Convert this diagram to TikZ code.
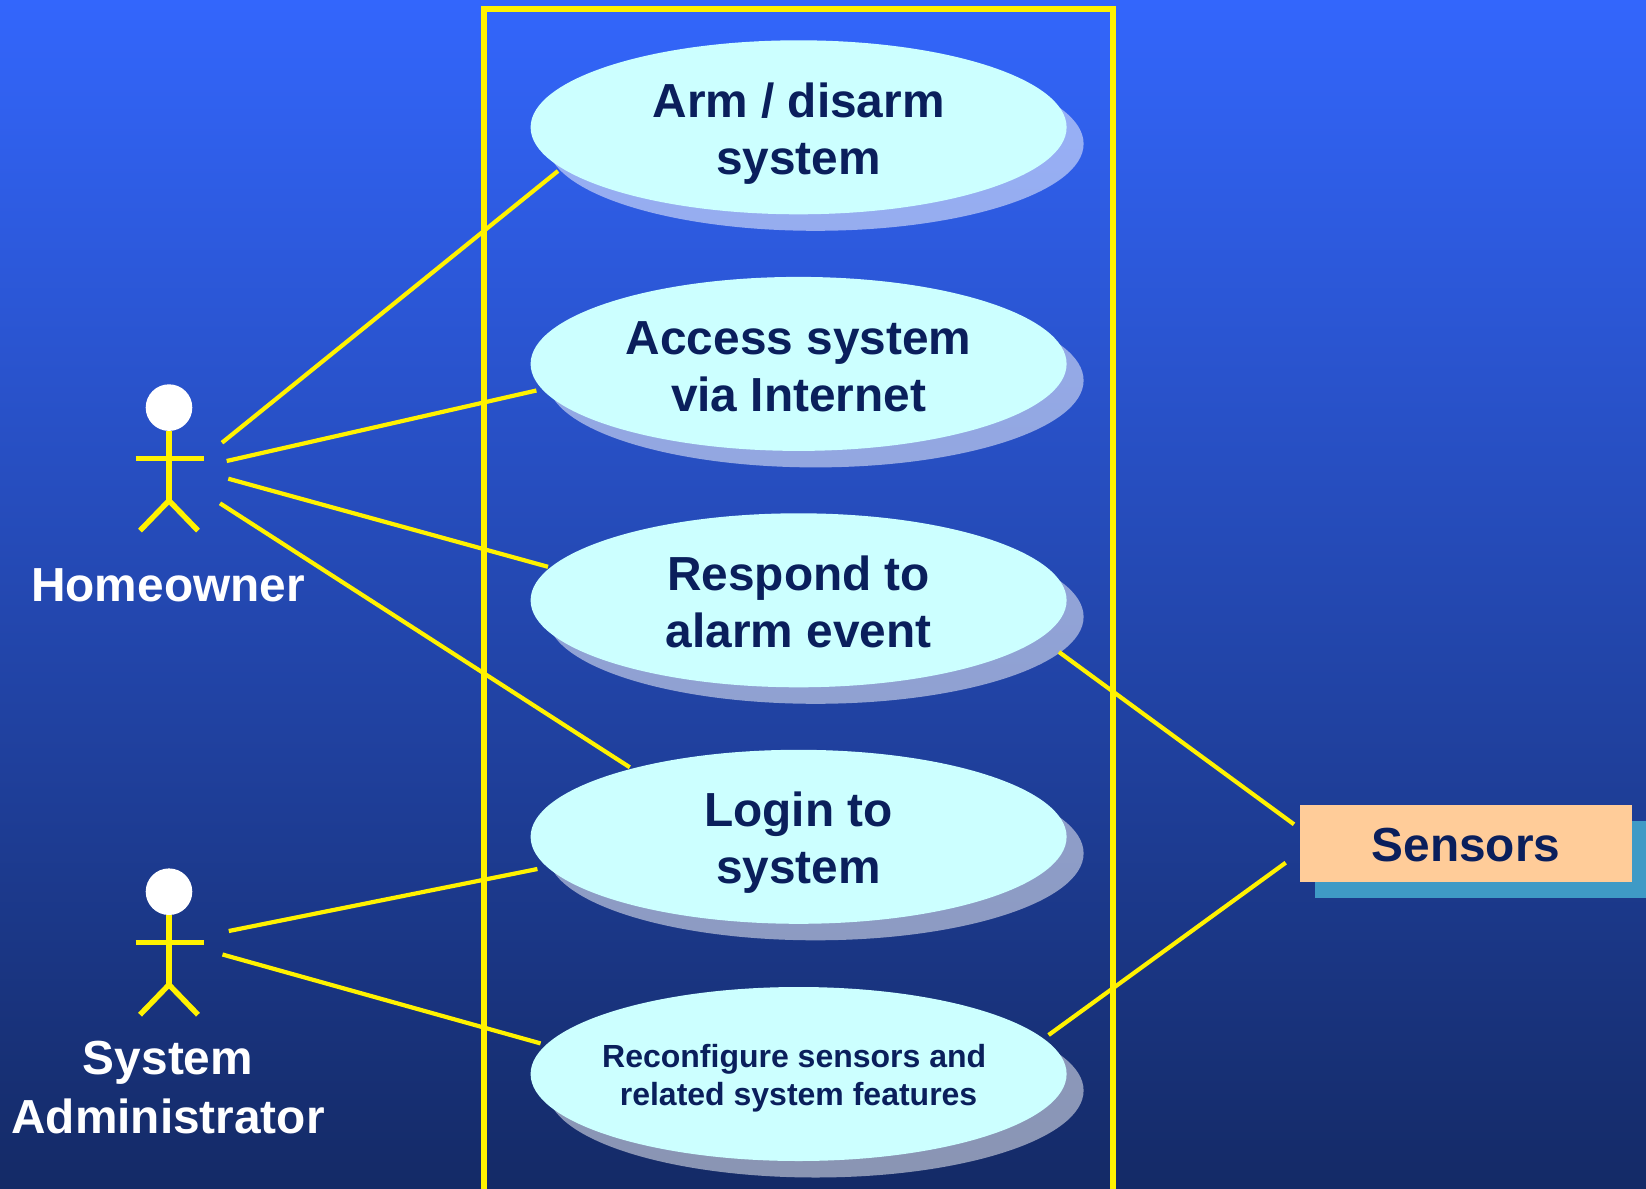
\documentclass[tikz,border=0pt]{standalone}
\usepackage{fontspec}
\setmainfont{Liberation Sans}
\usetikzlibrary{shapes.geometric,calc}
\definecolor{bgtop}{HTML}{3366FC}
\definecolor{bgbottom}{HTML}{142A66}
\definecolor{ink}{HTML}{0A1F5C}
\definecolor{ucfill}{HTML}{CCFFFF}
\definecolor{boxfill}{HTML}{FFCC99}
\definecolor{boxshadow}{HTML}{3F9AC6}
\newcommand\uctop{\rule{0pt}{24.6pt}}
\newcommand\ucbot{\rule[-6pt]{0pt}{6pt}}
\newcommand\smtop{\rule{0pt}{16.2pt}}
\newcommand\smbot{\rule[-4pt]{0pt}{4pt}}
\tikzset{
  usecase/.style={ellipse,fill=ucfill,text=ink,inner sep=0pt,outer sep=0pt,minimum width=268pt,minimum height=87pt,align=center,font=\fontsize{23.9}{28.5}\selectfont\bfseries},
  usecasesmall/.style={usecase,inner xsep=-4pt,font=\fontsize{16}{19}\selectfont\bfseries},
  ucshadow/.style={ellipse,fill=white,fill opacity=0.5,inner sep=0pt,outer sep=0pt,minimum width=268pt,minimum height=87pt},
  link/.style={draw=yellow,line width=2.1pt},
  frameline/.style={draw=yellow,line width=2.8pt,miter limit=10},
  limb/.style={draw=yellow,line width=2.7pt},
  actorlabel/.style={text=white,align=center,font=\fontsize{23.9}{28.5}\selectfont\bfseries,inner sep=0pt},
  actor/.pic={
    \node[circle,fill=white,inner sep=0pt,outer sep=0pt,minimum size=23.3pt] (-head) at (0,0) {};
    \coordinate (-hip) at (0,93);
    \coordinate (-armL) at (-33.5,51);
    \coordinate (-armR) at (34.5,51);
    \coordinate (-legL) at (-29,123);
    \coordinate (-legR) at (29,123);
    \draw[limb] (-head.south) -- (-hip);
    \draw[limb] (-armL) -- (-armR);
    \draw[limb,line join=miter] (-legL) -- (-hip) -- (-legR);
  }
}
\begin{document}
\begin{tikzpicture}[x=0.5pt,y=-0.5pt]
\useasboundingbox (0,0) rectangle (1646,1189);
\clip (0,0) rectangle (1646,1189);
\path[top color=bgtop,bottom color=bgbottom,middle color=bgtop!50!bgbottom] (0,0) rectangle (1646,1189);
% system boundary
\draw[frameline] (483.7,1210) -- (483.7,9) -- (1113,9) -- (1113,1210);
% shadows
\foreach \n/\y in {a/127.3,b/363.9,c/600.3,d/836.8,e/1074}
  \node[ucshadow] (shadow\n) at (815.6,\y+16.5) {};
% use cases
\node[usecase] (arm) at (798.6,127.3) {\uctop Arm / disarm\\system\ucbot};
\node[usecase] (access) at (798.6,363.9) {\uctop Access system\\via Internet\ucbot};
\node[usecase] (respond) at (798.6,600.3) {\uctop Respond to\\alarm event\ucbot};
\node[usecase] (login) at (798.6,836.8) {\uctop Login to\\system\ucbot};
\node[usecasesmall] (reconf) at (798.6,1074) {\smtop Reconfigure sensors and\hspace*{4.4pt}\\related system features\smbot};
% actors
\pic (home) at (169,407.6) {actor};
\pic (admin) at (169,891.7) {actor};
\node[actorlabel,anchor=base] (homelabel) at (168,601.7) {Homeowner};
\node[actorlabel,anchor=base] (adminlabel) at (168,1074) {System};
\node[actorlabel,anchor=base] (adminlabelb) at (168,1133) {Administrator};
% sensors
\node[fill=boxshadow,inner sep=0pt,outer sep=0pt,minimum width=166pt,minimum height=38.8pt] (sensorshadow) at (1481.3,859.5) {};
\node[fill=boxfill,text=ink,inner sep=0pt,outer sep=0pt,minimum width=166pt,minimum height=38.35pt,font=\fontsize{23.9}{28.5}\selectfont\bfseries] (sensors) at (1466,843.3) {\rule{0pt}{18.6pt}Sensors};
% connector free ends
\coordinate (h1) at (222,442.7);
\coordinate (h2) at (226.7,461);
\coordinate (h3) at (228.3,478.7);
\coordinate (h4) at (220,503.3);
\coordinate (a1) at (228.8,931);
\coordinate (a2) at (222.5,954.5);
\coordinate (s1) at (1294,824.3);
\coordinate (s2) at (1285.7,862.7);
% connectors
\draw[link] (h1) -- ($(arm)+(-240.6,43.7)$);
\draw[link] (h2) -- ($(access)+(-262.2,26.6)$);
\draw[link] (h3) -- ($(respond)+(-250.6,-33.5)$);
\draw[link] (h4) -- ($(login)+(-168.8,-69.5)$);
\draw[link] (a1) -- ($(login)+(-261.2,32.2)$);
\draw[link] (a2) -- ($(reconf)+(-258,-30.6)$);
\draw[link] (s1) -- ($(respond)+(260.4,51.7)$);
\draw[link] (s2) -- ($(reconf)+(250,-39)$);
\end{tikzpicture}
\end{document}
